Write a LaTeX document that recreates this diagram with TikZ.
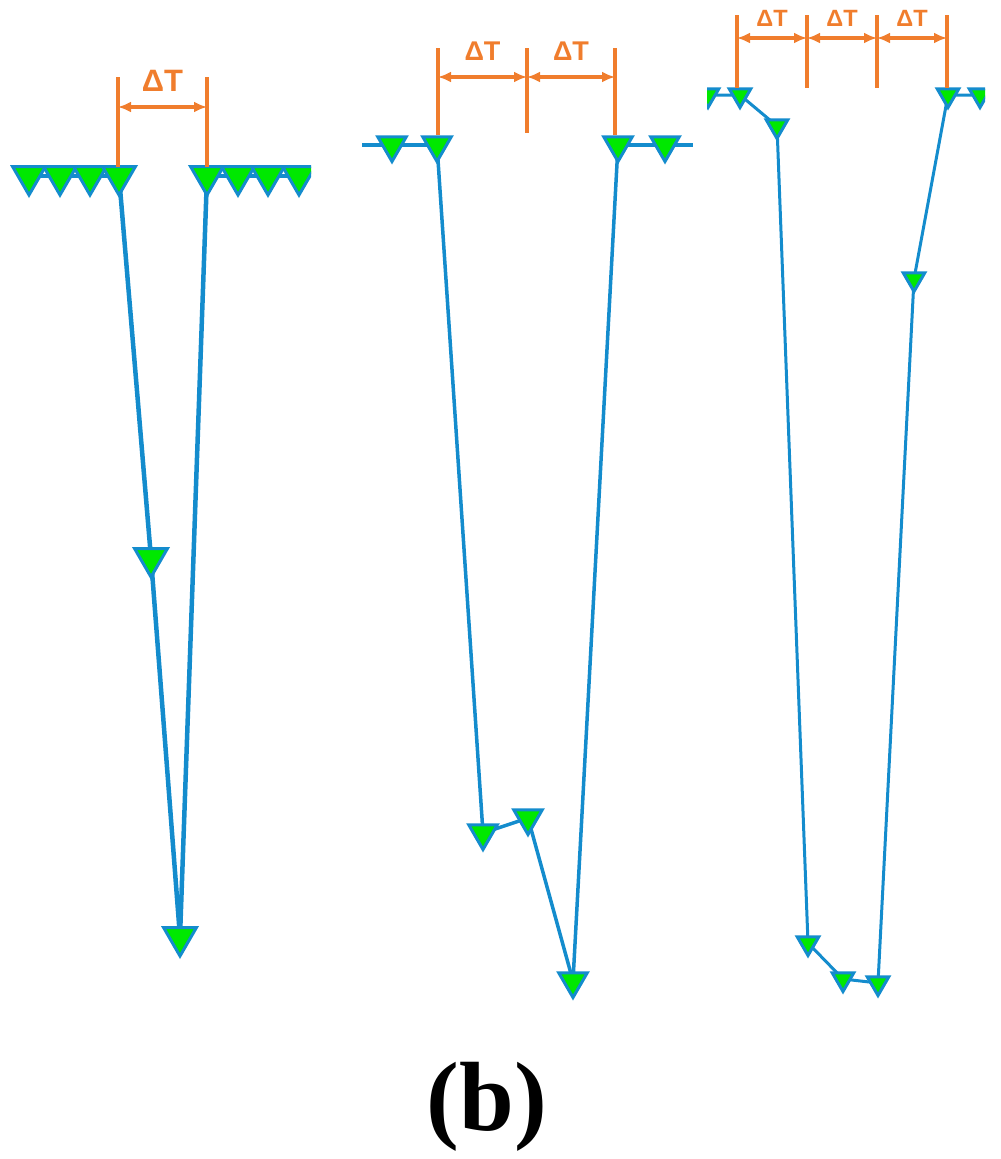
\documentclass[tikz,border=0pt]{standalone}
\usepackage{fontspec}
\setmainfont{Liberation Serif}
\newfontfamily\dimfont{Liberation Sans}
\usetikzlibrary{arrows.meta,shapes.geometric}
\definecolor{LineClr}{RGB}{20,140,205}
\definecolor{MarkClr}{RGB}{0,232,0}
\definecolor{DimClr}{RGB}{240,125,45}

\tikzset{
  mk/.style={regular polygon,regular polygon sides=3,shape border rotate=180,
    draw=LineClr,fill=MarkClr,line width=0.3mm,inner sep=0pt,minimum size=#1},
  link/.style={draw=LineClr,line width=#1},
  tick/.style={draw=DimClr,line width=#1},
  gap/.style={draw=DimClr,line width=#1,
    {Latex[length=1.3mm,width=1.1mm]}-{Latex[length=1.3mm,width=1.1mm]}},
  dt/.style={text=DimClr,font=\dimfont\bfseries\fontsize{#1}{#1}\selectfont,inner sep=0pt}
}

\begin{document}
\begin{tikzpicture}[x=0.1mm,y=-0.1mm]
\useasboundingbox (0,0) rectangle (1000,1159);

% ---- first panel
\begin{scope}
\clip (10,0) rectangle (311,1000);
\coordinate (a1) at (29,176);  \coordinate (a2) at (60,176);
\coordinate (a3) at (90,176);  \coordinate (a4) at (119,176);
\coordinate (a5) at (207,176); \coordinate (a6) at (238,176);
\coordinate (a7) at (268,176); \coordinate (a8) at (299,176);
\coordinate (am) at (151,558); \coordinate (ab) at (180,937);

\draw[link=0.45mm] (a1) -- (a4);
\draw[link=0.45mm] (a5) -- (a8);
\draw[link=0.45mm] (a4) -- (am) -- (ab);
\draw[link=0.45mm] (a5) -- (ab);

\foreach \p in {a1,a2,a3,a4,a5,a6,a7,a8,am,ab}
  \node[mk=3.8mm] (m-\p) at (\p) {};
\end{scope}

\draw[tick=0.4mm] (118,77) -- (118,167);
\draw[tick=0.4mm] (207,77) -- (207,167);
\coordinate (d1) at (118,107); \coordinate (d2) at (207,107);
\draw[gap=0.4mm] (d1) -- node[dt=8.8pt,above=1.4mm] (t1) {ΔT} (d2);

% ---- second panel
\coordinate (b0) at (362,145); \coordinate (b1) at (392,145);
\coordinate (b2) at (437,145); \coordinate (b3) at (618,145);
\coordinate (b4) at (665,145); \coordinate (b5) at (693,145);
\coordinate (bA) at (483,833); \coordinate (bB) at (528,818);
\coordinate (bC) at (573,981);

\draw[link=0.35mm] (b0) -- (b2);
\draw[link=0.35mm] (b3) -- (b5);
\draw[link=0.35mm] (b2) -- (bA) -- (bB) -- (bC);
\draw[link=0.35mm] (b3) -- (bC);

\foreach \p in {b1,b2,b3,b4,bA,bB,bC}
  \node[mk=3.3mm] (m-\p) at (\p) {};

\draw[tick=0.4mm] (438,48) -- (438,135);
\draw[tick=0.4mm] (527,48) -- (527,133);
\draw[tick=0.4mm] (615,48) -- (615,135);
\coordinate (e1) at (438,77); \coordinate (e2) at (527,77);
\coordinate (e3) at (615,77);
\draw[gap=0.4mm] (e1) -- node[dt=7.7pt,above=1.5mm] (t2) {ΔT} (e2);
\draw[gap=0.4mm] (e2) -- node[dt=7.7pt,above=1.5mm] (t3) {ΔT} (e3);

% ---- third panel
\begin{scope}
\clip (707,0) rectangle (985,1000);
\coordinate (c0) at (708,95);  \coordinate (c1) at (740,95);
\coordinate (cH) at (777,126); \coordinate (cD) at (808,943);
\coordinate (cE) at (843,979); \coordinate (cF) at (878,983);
\coordinate (cG) at (914,279); \coordinate (c2) at (948,95);
\coordinate (c3) at (980,95);

\draw[link=0.3mm] (c0) -- (c1) -- (cH) -- (cD) -- (cE) -- (cF)
  -- (cG) -- (c2) -- (c3);

\foreach \p in {c0,c1,cH,cD,cE,cF,cG,c2,c3}
  \node[mk=2.5mm] (m-\p) at (\p) {};
\end{scope}

\foreach \x in {737,807,877,947}
  \draw[tick=0.35mm] (\x,15) -- (\x,88);
\coordinate (f1) at (737,38); \coordinate (f2) at (807,38);
\coordinate (f3) at (877,38); \coordinate (f4) at (947,38);
\draw[gap=0.35mm] (f1) -- node[dt=6.7pt,above=1mm] (t4) {ΔT} (f2);
\draw[gap=0.35mm] (f2) -- node[dt=6.7pt,above=1mm] (t5) {ΔT} (f3);
\draw[gap=0.35mm] (f3) -- node[dt=6.7pt,above=1mm] (t6) {ΔT} (f4);

% caption
\node[anchor=base,inner sep=0pt,font=\bfseries\fontsize{28}{30}\selectfont] (cap) at (487,1130) {(b)};

\end{tikzpicture}
\end{document}
